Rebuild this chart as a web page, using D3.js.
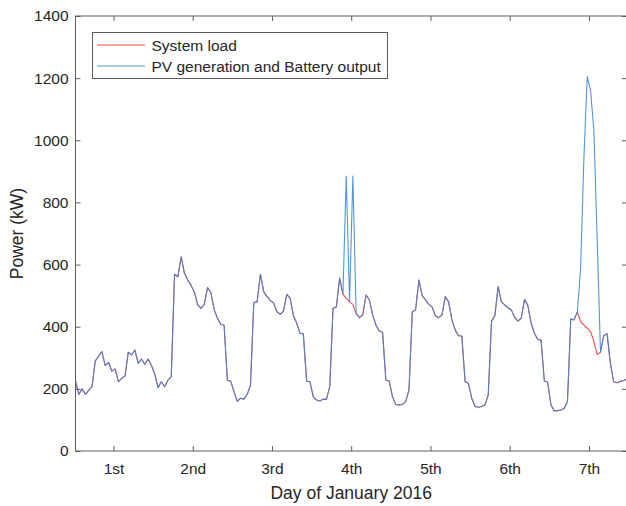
<!DOCTYPE html>
<html>
<head>
<meta charset="utf-8">
<script src="https://cdn.jsdelivr.net/npm/d3@7/dist/d3.min.js"></script>
<style>
  html, body { margin: 0; padding: 0; background: #fff; }
  svg { display: block; font-family: "Liberation Sans", Arial, Helvetica, sans-serif; }
</style>
</head>
<body>
<svg id="chart" width="626" height="506"></svg>
<script>
// Hourly system load (kW), one array per day of January 2016
const loadJan1 = [225,182,200,182,195,207,290,305,320,275,285,257,264,223,234,241,318,309,325,282,296,279,296,275];
const loadJan2 = [247,204,223,207,228,239,569,561,625,572,550,533,512,470,459,472,526,510,455,427,408,405,228,225];
const loadJan3 = [191,160,170,167,182,212,478,480,569,513,497,485,476,448,440,451,504,491,436,411,379,377,225,223];
const loadJan4 = [175,164,161,167,166,207,459,464,556,505,491,480,472,443,429,438,502,486,438,405,386,382,228,225];
const loadJan5 = [175,150,148,150,159,196,448,454,550,500,486,472,464,435,429,438,497,480,422,389,371,370,223,218];
const loadJan6 = [170,143,141,143,148,180,418,435,529,480,470,461,454,430,418,428,488,468,411,379,359,357,225,221];
const loadJan7 = [148,129,130,132,137,159,425,422,448,416,405,395,384,352,311,318,372,377,282,222,220,224,227,231];

// Hourly PV generation plus battery output (kW); on days 1-3 and 5-6 it equals the load
const pvJan4 = [175,164,161,167,166,207,459,464,556,505,885,480,885,443,429,438,502,486,438,405,386,382,228,225];
const pvJan7 = [148,129,130,132,137,159,425,422,448,590,950,1205,1160,1030,680,318,372,377,282,222,220,224,227,231];

const dayLabels = ["1st", "2nd", "3rd", "4th", "5th", "6th", "7th"];
const yTickValues = [0, 200, 400, 600, 800, 1000, 1200, 1400];
const seriesNames = ["System load", "PV generation and Battery output"];

const loadDays = [loadJan1, loadJan2, loadJan3, loadJan4, loadJan5, loadJan6, loadJan7];
const pvDays = [loadJan1, loadJan2, loadJan3, pvJan4, loadJan5, loadJan6, pvJan7];

// hour-of-week index 1..168
const toSeries = days => days.flat().map((v, i) => ({ hour: i + 1, value: v }));
const loadSeries = toSeries(loadDays);
const pvSeries = toSeries(pvDays);

const plot = { left: 75.5, right: 626.9, top: 16, bottom: 451 };
const svg = d3.select("#chart");

const x = d3.scaleLinear().domain([1, 168]).range([plot.left, plot.right]);
const y = d3.scaleLinear().domain([0, 1400]).range([plot.bottom, plot.top]);

const axisColor = "#5e5e5e";
const textColor = "#262626";
const loadColor = "#ff4a4a";
const pvColor = "#3a86d4";

// line marks
const line = d3.line().x(d => x(d.hour)).y(d => y(d.value));

svg.append("clipPath").attr("id", "plotclip")
  .append("rect")
  .attr("x", plot.left).attr("y", plot.top)
  .attr("width", plot.right - plot.left).attr("height", plot.bottom - plot.top);

const lines = svg.append("g").attr("clip-path", "url(#plotclip)");
lines.append("path")
  .datum(loadSeries)
  .attr("d", line)
  .attr("fill", "none")
  .attr("stroke", loadColor)
  .attr("stroke-width", 1.1)
  .attr("stroke-linejoin", "round");
lines.append("path")
  .datum(pvSeries)
  .attr("d", line)
  .attr("fill", "none")
  .attr("stroke", pvColor)
  .attr("stroke-opacity", 0.88)
  .attr("stroke-width", 1.1)
  .attr("stroke-linejoin", "round");

// axes with inward ticks on all four sides
const dayTicks = dayLabels.map((_, k) => 12.5 + 24 * k);

const styleAxis = g => {
  g.select(".domain").remove();
  g.selectAll(".tick line").attr("stroke", axisColor);
  g.selectAll(".tick text").attr("fill", textColor).style("font-size", "15.5px")
    .style("font-family", "'Liberation Sans', Arial, sans-serif");
};

svg.append("g")
  .attr("transform", `translate(${plot.left},0)`)
  .call(d3.axisLeft(y).tickValues(yTickValues).tickSize(-5).tickPadding(7).tickFormat(d3.format("d")))
  .call(styleAxis);

svg.append("g")
  .attr("transform", `translate(${plot.right},0)`)
  .call(d3.axisRight(y).tickValues(yTickValues).tickSize(-5).tickFormat(""))
  .call(styleAxis);

svg.append("g")
  .attr("transform", `translate(0,${plot.bottom})`)
  .call(d3.axisBottom(x).tickValues(dayTicks).tickSize(-5).tickPadding(12)
    .tickFormat((d, i) => dayLabels[i]))
  .call(styleAxis);

svg.append("g")
  .attr("transform", `translate(0,${plot.top})`)
  .call(d3.axisTop(x).tickValues(dayTicks).tickSize(-5).tickFormat(""))
  .call(styleAxis);

// frame
svg.append("rect")
  .attr("x", plot.left).attr("y", plot.top)
  .attr("width", plot.right - plot.left).attr("height", plot.bottom - plot.top)
  .attr("fill", "none").attr("stroke", axisColor).attr("stroke-width", 1);

// axis titles
svg.append("text")
  .attr("x", (plot.left + plot.right) / 2).attr("y", 499)
  .attr("text-anchor", "middle")
  .attr("fill", textColor)
  .style("font-size", "17.5px")
  .text("Day of January 2016");

svg.append("text")
  .attr("transform", `translate(23,${(plot.top + plot.bottom) / 2}) rotate(-90)`)
  .attr("text-anchor", "middle")
  .attr("fill", textColor)
  .style("font-size", "17.5px")
  .text("Power (kW)");

// legend
const legend = svg.append("g");
legend.append("rect")
  .attr("x", 92.5).attr("y", 32.5).attr("width", 295).attr("height", 46)
  .attr("fill", "#fff").attr("stroke", axisColor).attr("stroke-width", 1);

const legendColors = [loadColor, pvColor];
seriesNames.forEach((name, i) => {
  const cy = 45 + i * 21;
  legend.append("line")
    .attr("x1", 97).attr("x2", 145).attr("y1", cy).attr("y2", cy)
    .attr("stroke", legendColors[i]).attr("stroke-width", 1.1)
    .attr("stroke-opacity", i === 1 ? 0.88 : 1);
  legend.append("text")
    .attr("x", 151.5).attr("y", cy + 5.5)
    .attr("fill", textColor)
    .style("font-size", "15.5px")
    .text(name);
});
</script>
</body>
</html>
